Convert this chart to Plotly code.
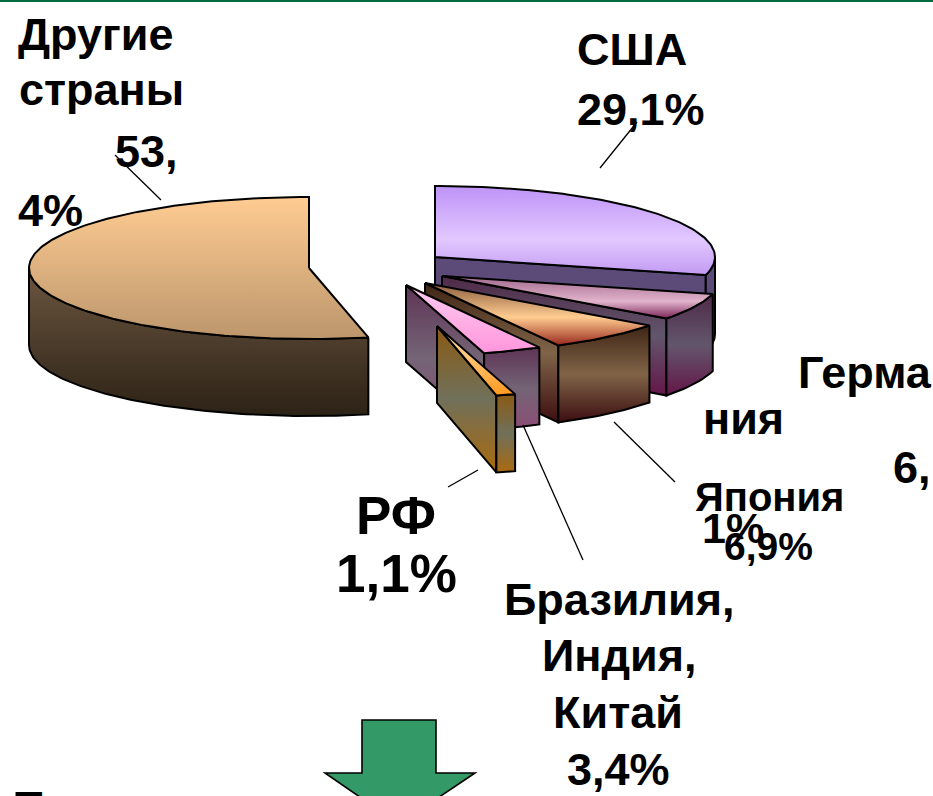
import numpy as np
import plotly.graph_objects as go

# ---- data ----
categories = ["США", "Германия", "Япония", "Бразилия, Индия, Китай", "РФ", "Другие страны"]
shares = [29.1, 6.1, 6.9, 3.4, 1.1, 53.4]

# ---- chart geometry (pixels of the canvas) ----
W, H = 933, 796
RX, RY, DEPTH = 280, 71, 77
centers_x = [435, 442, 425, 406, 437, 309]
centers_y = [257, 276, 283, 285, 326, 268]

top_colors = [
    [[0, "#BE93F8"], [0.6, "#E2C8FF"], [1, "#C29AF2"]],
    [[0, "#A0688C"], [0.6, "#E2B4CC"], [1, "#7A2458"]],
    [[0, "#8A5C3C"], [0.55, "#FFCC90"], [1, "#98281C"]],
    [[0, "#FFCCF0"], [1, "#FF96DC"]],
    [[0, "#FFE6BE"], [1, "#FF9A1E"]],
    [[0, "#FFCC92"], [1, "#BC966C"]],
]
side_colors = [
    [[0, "#5C4A78"], [1, "#5C4A78"]],
    [[0, "#4E2A48"], [0.5, "#62566C"], [1, "#641648"]],
    [[0, "#3E2414"], [0.5, "#806448"], [1, "#3C0E10"]],
    [[0, "#5E3456"], [0.5, "#746476"], [1, "#8C4C74"]],
    [[0, "#8A5A14"], [0.5, "#70705A"], [1, "#AA6A0E"]],
    [[0, "#6C5640"], [1, "#2C2216"]],
]

# ---- label lines ----
label_text = ["Другие", "страны", "53,", "4%", "США", "29,1%", "Герма", "ния", "6,", "Япония", "1%", "6,9%",
              "РФ", "1,1%", "Бразилия,", "Индия,", "Китай", "3,4%", "Т"]
label_x = [95, 101, 146, 50, 632, 641, 865, 743, 912, 769, 733, 768, 396, 396, 619, 619, 618, 618, 29]
label_y = [34, 90, 152, 211, 49, 110, 372, 418, 467, 497, 528, 546, 515, 573, 599, 655, 712, 769, 807]
label_size = [45, 45, 45, 45, 45, 45, 45, 45, 45, 40, 43, 39, 53, 53, 45, 45, 45, 45, 45]

leader_x0 = [115, 637, 614, 523, 478]
leader_y0 = [155, 122, 422, 425, 470]
leader_x1 = [161, 600, 675, 583, 448]
leader_y1 = [200, 168, 482, 560, 487]

# ---- build ----
ends = np.cumsum(shares) / sum(shares) * 2 * np.pi
starts = np.concatenate([[0], ends[:-1]])


def rim(cx, cy, a0, a1, dy=0):
    a = np.linspace(a0, a1, max(int(abs(a1 - a0) * 60), 2))
    return cx + RX * np.sin(a), cy - RY * np.cos(a) + dy


def add_poly(fig, xs, ys, scale):
    fig.add_trace(go.Scatter(
        x=np.append(xs, xs[0]), y=np.append(ys, ys[0]), mode="lines", fill="toself",
        line=dict(color="black", width=2), hoverinfo="skip", showlegend=False,
        fillgradient=dict(type="vertical", colorscale=scale, start=float(np.min(ys)), stop=float(np.max(ys))),
    ))


fig = go.Figure()
for i in [5, 0, 1, 2, 3, 4]:
    cx, cy, a0, a1 = centers_x[i], centers_y[i], starts[i], ends[i]
    # cut face at the end angle (visible for slices on the right half)
    if a1 < np.pi:
        ox, oy = rim(cx, cy, a1, a1 + 1e-3)
        add_poly(fig, np.array([cx, ox[0], ox[0], cx]),
                 np.array([cy, oy[0], oy[0] + DEPTH, cy + DEPTH]), side_colors[i])
    # outer wall: the part of the rim facing the viewer
    w0, w1 = max(a0, np.pi / 2), min(a1, 3 * np.pi / 2)
    if w1 > w0:
        tx, ty = rim(cx, cy, w0, w1)
        bx, by = rim(cx, cy, w1, w0, DEPTH)
        add_poly(fig, np.concatenate([tx, bx]), np.concatenate([ty, by]), side_colors[i])
    # top face
    rx_, ry_ = rim(cx, cy, a0, a1)
    add_poly(fig, np.concatenate([[cx], rx_]), np.concatenate([[cy], ry_]), top_colors[i])

shapes = [
    dict(type="line", x0=a, y0=b, x1=c, y1=d, line=dict(color="black", width=1.3))
    for a, b, c, d in zip(leader_x0, leader_y0, leader_x1, leader_y1)
]
shapes.append(dict(type="line", x0=0, x1=W, y0=1, y1=1, line=dict(color="#006B3E", width=2)))
shapes.append(dict(type="path", path="M362,720 L436,720 L436,773 L475,773 L399,824 L325,773 L362,773 Z",
                   fillcolor="#339966", line=dict(color="black", width=1.6)))

annotations = [
    dict(x=x / W, y=1 - y / H, text="<b>" + t + "</b>", showarrow=False, xanchor="center", yanchor="middle",
         font=dict(family="Liberation Sans", size=s, color="black"), xref="paper", yref="paper")
    for t, x, y, s in zip(label_text, label_x, label_y, label_size)
]

fig.update_layout(
    width=W, height=H, margin=dict(l=0, r=0, t=0, b=0),
    paper_bgcolor="white", plot_bgcolor="white", showlegend=False,
    xaxis=dict(range=[0, W], visible=False, fixedrange=True),
    yaxis=dict(range=[H, 0], visible=False, fixedrange=True),
    shapes=shapes, annotations=annotations,
)
fig.write_html("out.html", config={"displayModeBar": False},
               post_script="document.body.style.margin='0';document.documentElement.style.overflow='hidden';")
